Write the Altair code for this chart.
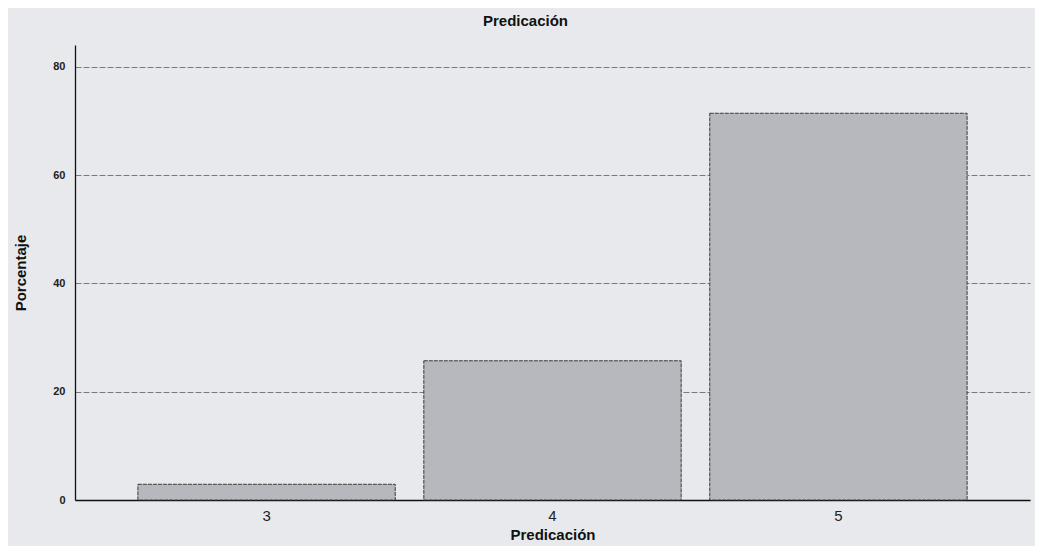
import altair as alt
import pandas as pd

categories = ["3", "4", "5"]
porcentaje = [2.9, 25.7, 71.4]

df = pd.DataFrame({"Predicacion": categories, "Porcentaje": porcentaje})

FONT = "Liberation Sans"

bars = alt.Chart(df).mark_bar(
    color="#b7b8bd", stroke="#3a3a3a", strokeWidth=1, strokeDash=[4, 1]
).encode(
    x=alt.X("Predicacion:N", title="Predicación", sort=categories,
            scale=alt.Scale(paddingInner=0.1, paddingOuter=0.22),
            axis=alt.Axis(labelAngle=0, ticks=False, labelPadding=8,
                          labelFontSize=15, labelColor="#222",
                          titleFontSize=15, titleFontWeight="bold",
                          titlePadding=4, titleColor="#111",
                          domainColor="#111", domainWidth=1.3)),
    y=alt.Y("Porcentaje:Q", title="Porcentaje",
            scale=alt.Scale(domain=[0, 84], nice=False),
            axis=alt.Axis(values=[0, 20, 40, 60, 80], ticks=False,
                          labelFontSize=11, labelFontWeight="bold",
                          labelColor="#222", labelPadding=10,
                          titleFontSize=15, titleFontWeight="bold",
                          titleColor="#111", titlePadding=24,
                          domainColor="#111", domainWidth=1.3,
                          grid=True, gridColor="#7a7a7a", gridDash=[6, 2],
                          gridWidth=1)),
)

chart = bars.properties(
    width=955, height=455,
    title=alt.TitleParams("Predicación", fontSize=15, fontWeight="bold",
                          color="#111", font=FONT, offset=16, dx=-27),
    background="#e8e9ed",
    autosize=alt.AutoSizeParams(type="none"),
    padding={"left": 67, "top": 37, "right": 5, "bottom": 46},
).configure(font=FONT).configure_view(stroke=None)

chart.save("out.html", embed_options={"renderer": "svg", "actions": False})
